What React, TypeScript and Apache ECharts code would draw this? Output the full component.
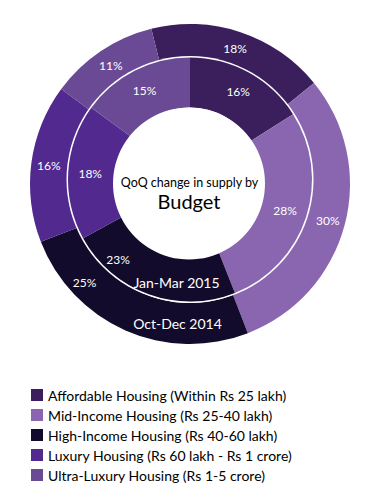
import React, { useEffect, useRef } from "react";
import * as echarts from "echarts";

const categories = [
  "Affordable Housing (Within Rs 25 lakh)",
  "Mid-Income Housing (Rs 25-40 lakh)",
  "High-Income Housing (Rs 40-60 lakh)",
  "Luxury Housing (Rs 60 lakh - Rs 1 crore)",
  "Ultra-Luxury Housing (Rs 1-5 crore)",
];
const octDec2014 = [18, 30, 25, 16, 11];
const janMar2015 = [16, 28, 23, 18, 15];
const colors = ["#3b1f5c", "#8a66b0", "#130b2b", "#52298f", "#6a4a94"];

const FONT = "Lato, 'Noto Sans', sans-serif";

export default function App() {
  const ref = useRef<HTMLDivElement>(null);
  useEffect(() => {
    if (!ref.current) return;
    const chart = echarts.init(ref.current, undefined, { renderer: "svg" });
    const mk = (vals: number[]) =>
      categories.map((name, i) => ({ name, value: vals[i], itemStyle: { color: colors[i] } }));
    const whiteDisc = (cx: number, cy: number, r: number) => ({
      type: "pie",
      silent: true,
      center: [cx, cy],
      radius: [0, r],
      label: { show: false },
      labelLine: { show: false },
      emphasis: { disabled: true },
      data: [{ name: "_bg", value: 1, itemStyle: { color: "#ffffff" } }],
    });
    const labelStyle = {
      show: true,
      position: "inside",
      formatter: "{c}%",
      color: "#ffffff",
      fontSize: 12,
      fontFamily: FONT,
    };
    const centeredText = (text: string, x: number, y: number, size: number, fill: string) => ({
      type: "text",
      z: 100,
      x,
      y,
      style: {
        text,
        fill,
        font: `${size}px ${FONT}`,
        align: "center",
        verticalAlign: "middle",
        textAlign: "center",
        textVerticalAlign: "middle",
      },
    });
    chart.setOption({
      animation: false,
      backgroundColor: "#ffffff",
      legend: {
        data: categories,
        orient: "vertical",
        left: 31,
        top: 388,
        padding: 0,
        itemWidth: 12,
        itemHeight: 12,
        itemGap: 6,
        icon: "rect",
        selectedMode: false,
        textStyle: { fontSize: 14, fontFamily: FONT, color: "#000000", lineHeight: 12 },
      },
      series: [
        {
          type: "pie",
          name: "Oct-Dec 2014",
          center: [190, 184],
          radius: [119, 160],
          startAngle: 104,
          clockwise: true,
          silent: true,
          label: labelStyle,
          labelLine: { show: false },
          emphasis: { disabled: true },
          labelLayout: (p: any) => (p.dataIndex === 2 ? { dx: -48, dy: -32 } : {}),
          data: mk(octDec2014),
        },
        whiteDisc(190, 179.5, 123.5),
        {
          type: "pie",
          name: "Jan-Mar 2015",
          center: [190, 179.5],
          radius: [72, 122],
          startAngle: 90,
          clockwise: true,
          silent: true,
          label: labelStyle,
          labelLine: { show: false },
          emphasis: { disabled: true },
          labelLayout: (p: any) => (p.dataIndex === 2 ? { dx: -38, dy: -14 } : {}),
          data: mk(janMar2015),
        },
        whiteDisc(189, 183.5, 76),
      ],
      graphic: [
        centeredText("QoQ change in supply by", 189.5, 182, 12.5, "#000000"),
        centeredText("Budget", 189, 200.5, 20, "#000000"),
        centeredText("Jan-Mar 2015", 176.5, 282, 14, "#ffffff"),
        centeredText("Oct-Dec 2014", 177.5, 323, 14, "#ffffff"),
      ],
    });
    return () => chart.dispose();
  }, []);
  return (
    <div
      ref={ref}
      style={{ position: "absolute", left: 0, top: 0, width: 379, height: 484 }}
    />
  );
}
